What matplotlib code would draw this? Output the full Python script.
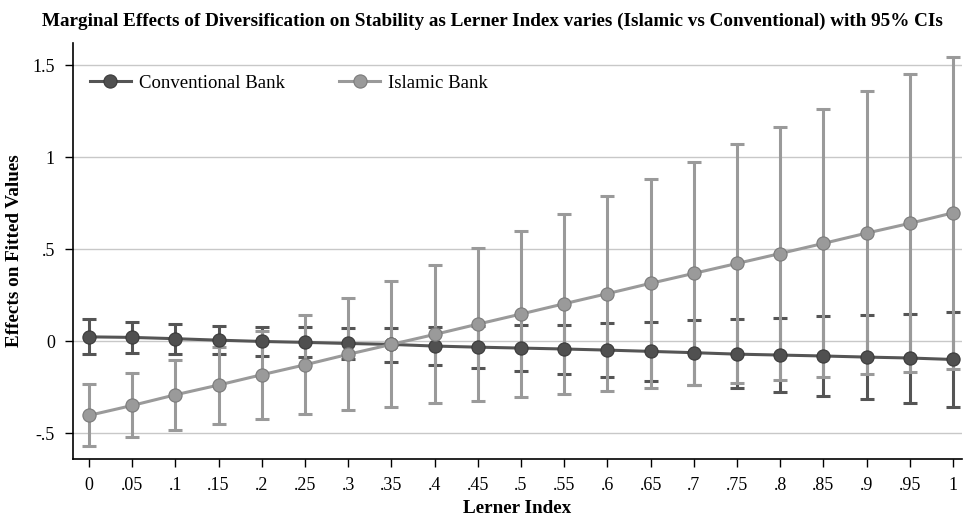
import numpy as np
import matplotlib.pyplot as plt

plt.rcParams['font.family'] = ['Liberation Serif', 'DejaVu Serif']

# Lerner index grid
lerner = [0, .05, .1, .15, .2, .25, .3, .35, .4, .45, .5,
          .55, .6, .65, .7, .75, .8, .85, .9, .95, 1]
tick_labels = ["0", ".05", ".1", ".15", ".2", ".25", ".3", ".35", ".4", ".45", ".5",
               ".55", ".6", ".65", ".7", ".75", ".8", ".85", ".9", ".95", "1"]

# Conventional bank: margin, lower, upper
conv_est = [0.023, 0.020, 0.013, 0.005, -0.002, -0.007, -0.013, -0.018, -0.027, -0.033, -0.038,
            -0.043, -0.049, -0.056, -0.063, -0.071, -0.076, -0.081, -0.087, -0.092, -0.100]
conv_lo = [-0.069, -0.067, -0.069, -0.072, -0.080, -0.085, -0.098, -0.112, -0.129, -0.145, -0.161,
           -0.179, -0.197, -0.219, -0.239, -0.257, -0.277, -0.297, -0.317, -0.337, -0.357]
conv_hi = [0.120, 0.105, 0.092, 0.083, 0.078, 0.074, 0.072, 0.072, 0.078, 0.080, 0.085,
           0.090, 0.096, 0.105, 0.112, 0.120, 0.127, 0.134, 0.141, 0.148, 0.159]

# Islamic bank: margin, lower, upper
isl_est = [-0.404, -0.350, -0.292, -0.239, -0.183, -0.129, -0.072, -0.018, 0.036, 0.092, 0.147,
           0.203, 0.258, 0.314, 0.368, 0.422, 0.476, 0.531, 0.587, 0.640, 0.697]
isl_lo = [-0.572, -0.524, -0.484, -0.449, -0.424, -0.397, -0.377, -0.357, -0.339, -0.323, -0.304,
          -0.288, -0.274, -0.257, -0.237, -0.226, -0.212, -0.196, -0.181, -0.167, -0.152]
isl_hi = [-0.234, -0.174, -0.101, -0.030, 0.057, 0.143, 0.232, 0.324, 0.415, 0.505, 0.598,
          0.692, 0.786, 0.880, 0.974, 1.069, 1.165, 1.259, 1.357, 1.450, 1.545]

conv_col = "#555555"
isl_col = "#9a9a9a"

fig = plt.figure(figsize=(9.69, 5.19), dpi=100)
ax = fig.add_axes([0.0753, 0.1156, 0.9175, 0.8014])

x = np.array(lerner)
for est, lo, hi, col, z in [(conv_est, conv_lo, conv_hi, conv_col, 2),
                            (isl_est, isl_lo, isl_hi, isl_col, 3)]:
    est = np.array(est)
    yerr = [est - np.array(lo), np.array(hi) - est]
    ax.errorbar(x, est, yerr=yerr, fmt="none", ecolor=col, elinewidth=2.2,
                capsize=5, capthick=2.2, zorder=z)

ax.plot(x, conv_est, color=conv_col, lw=2.2, marker="o", ms=9.5,
        mfc="#505050", mec="#3a3a3a", mew=0.8, zorder=4, label="Conventional Bank")
ax.plot(x, isl_est, color=isl_col, lw=2.2, marker="o", ms=9.5,
        mfc="#9a9a9a", mec="#7a7a7a", mew=0.8, zorder=5, label="Islamic Bank")

ax.set_xlim(-0.0185, 1.0104)
ax.set_ylim(-0.641, 1.62)
ax.set_xticks(lerner)
ax.set_xticklabels(tick_labels)
ax.set_yticks([-0.5, 0, 0.5, 1, 1.5])
ax.set_yticklabels(["-.5", "0", ".5", "1", "1.5"])
ax.tick_params(axis="both", direction="out", length=6, width=1, labelsize=13, pad=7)
ax.yaxis.grid(True, color="#c8c8c8", lw=1)
ax.set_axisbelow(True)
for s in ["top", "right"]:
    ax.spines[s].set_visible(False)
for s in ["left", "bottom"]:
    ax.spines[s].set_linewidth(1.2)

ax.set_xlabel("Lerner Index", fontsize=13.8, fontweight="bold", labelpad=4)
ax.set_ylabel("Effects on Fitted Values", fontsize=13.8, fontweight="bold", labelpad=7)
fig.suptitle("Marginal Effects of Diversification on Stability as Lerner Index varies "
             "(Islamic vs Conventional) with 95% CIs",
             x=0.508, y=0.975, fontsize=13.8, fontweight="bold")

ax.legend(loc="upper left", ncol=2, frameon=False, fontsize=13.5,
          bbox_to_anchor=(0.0, 0.965), handlelength=2.2, columnspacing=2.9,
          handletextpad=0.4)

fig.savefig("out.png", dpi=100)
